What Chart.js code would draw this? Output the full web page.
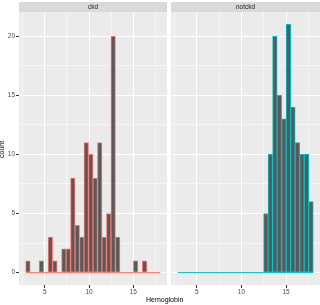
<!DOCTYPE html>
<html>
<head>
<meta charset="utf-8">
<script src="https://cdn.jsdelivr.net/npm/chart.js@4"></script>
<style>
  body { margin: 0; background: #fff; }
  #wrap { position: relative; width: 320px; height: 305px; overflow: hidden; font-family: 'Liberation Sans', Arial, sans-serif; }
  canvas { position: absolute; top: 0; }
  .lab { position: absolute; font-size: 7px; color: #000; white-space: nowrap; }
</style>
</head>
<body>
<div id="wrap">
  <canvas id="ckdChart" width="167" height="305" style="left:0"></canvas>
  <canvas id="notckdChart" width="149" height="305" style="left:171px"></canvas>
  <div class="lab" style="left:-7px; top:146px; transform: rotate(-90deg);">count</div>
  <div class="lab" style="left:146px; top:296px;">Hemoglobin</div>
</div>
<script>
// histogram bins (30 bins over hemoglobin range)
const binCenters = [3.100, 3.607, 4.114, 4.621, 5.128, 5.634, 6.141, 6.648, 7.155, 7.662,
                    8.169, 8.676, 9.183, 9.690, 10.197, 10.703, 11.210, 11.717, 12.224, 12.731,
                    13.238, 13.745, 14.252, 14.759, 15.266, 15.772, 16.279, 16.786, 17.293, 17.800];
const binRange = [2.847, 18.053];
const ckdCounts = [1, 0, 0, 1, 0, 3, 1, 0, 2, 2, 8, 4, 3, 11, 10, 8, 11, 3, 5, 20,
                   3, 0, 0, 0, 1, 0, 1, 0, 0, 0];
const notckdCounts = [0, 0, 0, 0, 0, 0, 0, 0, 0, 0, 0, 0, 0, 0, 0, 0, 0, 0, 0, 5,
                      10, 20, 15, 13, 21, 14, 11, 10, 10, 6];
const xTickLabels = [5, 10, 15];
const yTickLabels = [0, 5, 10, 15, 20];

// ggplot-ish panel background + facet strip
const panelPlugin = {
    id: 'panel',
    beforeDraw(chart, args, opts) {
        const { ctx, chartArea } = chart;
        ctx.save();
        ctx.fillStyle = '#EBEBEB';
        ctx.fillRect(chartArea.left, chartArea.top, chartArea.right - chartArea.left, chartArea.bottom - chartArea.top);
        ctx.fillStyle = '#D9D9D9';
        ctx.fillRect(chartArea.left, 2, chartArea.right - chartArea.left, chartArea.top - 2);
        ctx.fillStyle = '#1A1A1A';
        ctx.font = '6.5px "Liberation Sans", Arial, sans-serif';
        ctx.textAlign = 'center';
        ctx.textBaseline = 'middle';
        ctx.fillText(opts.label, (chartArea.left + chartArea.right) / 2, (chartArea.top + 2) / 2 + 0.5);
        ctx.restore();
    }
};

function isMajor(v) {
    return Math.abs(v / 5 - Math.round(v / 5)) < 1e-6;
}

function makeChart(canvasId, label, counts, outline, showY) {
    const ctx = document.getElementById(canvasId);
    const config = {
        type: 'bar',
        data: {
            datasets: [{
                type: 'bar',
                data: binCenters.map((x, i) => ({ x: x, y: counts[i] })),
                backgroundColor: '#595959',
                borderColor: outline,
                borderWidth: 1,
                borderSkipped: false,
                barPercentage: 1,
                categoryPercentage: 1,
                order: 0
            }, {
                type: 'line',
                data: binRange.map(x => ({ x: x, y: 0 })),
                borderColor: outline,
                borderWidth: 1,
                pointRadius: 0,
                order: 1
            }]
        },
        options: {
            responsive: false,
            animation: false,
            devicePixelRatio: 1,
            layout: { padding: { top: 12, left: 0, right: 0, bottom: 0 } },
            plugins: {
                legend: { display: false },
                tooltip: { enabled: false },
                panel: { label: label }
            },
            scales: {
                x: {
                    type: 'linear',
                    min: 2.09,
                    max: 18.81,
                    offset: false,
                    border: { display: false },
                    grid: {
                        offset: false,
                        color: '#FFFFFF',
                        lineWidth: c => isMajor(c.tick.value) ? 1 : 0.5,
                        tickColor: c => isMajor(c.tick.value) ? '#333333' : 'rgba(0,0,0,0)',
                        tickLength: 3
                    },
                    ticks: {
                        stepSize: 2.5,
                        includeBounds: false,
                        autoSkip: false,
                        maxRotation: 0,
                        padding: 0,
                        color: '#4D4D4D',
                        font: { size: 6.5, family: 'Liberation Sans, Arial, sans-serif' },
                        callback: v => xTickLabels.includes(v) ? String(v) : ''
                    },
                    afterFit: s => { s.height = 20; }
                },
                y: {
                    min: -1.05,
                    max: 22.05,
                    border: { display: false },
                    grid: {
                        color: '#FFFFFF',
                        lineWidth: c => isMajor(c.tick.value) ? 1 : 0.5,
                        tickColor: c => (showY && isMajor(c.tick.value)) ? '#333333' : 'rgba(0,0,0,0)',
                        tickLength: 3,
                        drawTicks: showY
                    },
                    ticks: {
                        display: showY,
                        stepSize: 2.5,
                        includeBounds: false,
                        autoSkip: false,
                        padding: 1,
                        color: '#4D4D4D',
                        font: { size: 6.5, family: 'Liberation Sans, Arial, sans-serif' },
                        callback: v => yTickLabels.includes(v) ? String(v) : ''
                    },
                    afterFit: s => { s.width = showY ? 19 : 0; }
                }
            }
        },
        plugins: [panelPlugin]
    };
    return new Chart(ctx, config);
}

makeChart('ckdChart', 'ckd', ckdCounts, '#F8766D', true);
makeChart('notckdChart', 'notckd', notckdCounts, '#00BFC4', false);
</script>
</body>
</html>
